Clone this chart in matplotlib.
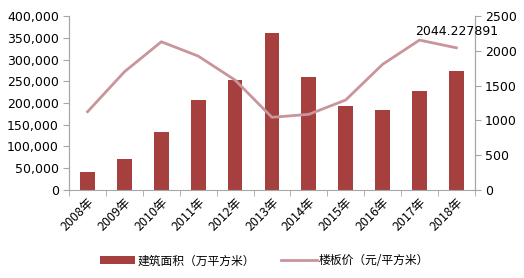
import matplotlib.pyplot as plt
import numpy as np

plt.rcParams['font.family'] = ['DejaVu Sans', 'Noto Sans CJK SC']

years = ['2008年', '2009年', '2010年', '2011年', '2012年', '2013年',
         '2014年', '2015年', '2016年', '2017年', '2018年']
area = [40000, 70000, 134000, 208000, 252000, 360000,
        260000, 192000, 184000, 228000, 273000]
price = [1125, 1700, 2131, 1925, 1580, 1044,
         1087, 1293, 1806, 2155, 2044.227891]

bar_color = '#a5403f'
line_color = '#c9959b'
axis_color = '#a6a6a6'

fig = plt.figure(figsize=(5.24, 2.78), dpi=100)
ax = fig.add_axes([0.132, 0.317, 0.774, 0.625])
ax2 = ax.twinx()

x = np.arange(len(years))
b = ax.bar(x, area, width=0.4, color=bar_color, zorder=2)
l, = ax2.plot(x, price, color=line_color, lw=2, zorder=3)
ax2.annotate('2044.227891', (x[-1], price[-1]), xytext=(0, 7), textcoords='offset points',
             ha='center', va='bottom', fontsize=9)

ax.set_xlim(-0.5, len(years) - 0.5)
ax.set_ylim(0, 400000)
ax2.set_ylim(0, 2500)
ax.set_yticks(np.arange(0, 400001, 50000))
ax.set_yticklabels([f'{v:,}' for v in range(0, 400001, 50000)])
ax2.set_yticks(np.arange(0, 2501, 500))

ax.set_xticks(x)
ax.set_xticklabels(years, rotation=45, ha='right', rotation_mode='anchor',
                   family=['Noto Sans CJK SC'])
ax.set_xticks(np.arange(-0.5, len(years), 1), minor=True)
ax.tick_params(axis='x', which='major', length=0, labelsize=9, pad=4)
ax.tick_params(axis='x', which='minor', length=4, color=axis_color)
ax.tick_params(axis='y', labelsize=9, length=4, color=axis_color)
ax2.tick_params(axis='y', labelsize=9, length=4, color=axis_color)

for a in (ax, ax2):
    a.spines['top'].set_visible(False)
    for s in ('left', 'right', 'bottom'):
        a.spines[s].set_color(axis_color)
ax2.spines['bottom'].set_visible(False)

fig.legend([b, l], ['建筑面积（万平方米）', '楼板价（元/平方米）'], loc='lower center',
           bbox_to_anchor=(0.505, 0.0), ncol=2, frameon=False,
           prop={'family': 'Noto Sans CJK SC', 'size': 8.5},
           handlelength=3, handletextpad=0.2, columnspacing=2.2)

fig.savefig('out.png', dpi=100)
